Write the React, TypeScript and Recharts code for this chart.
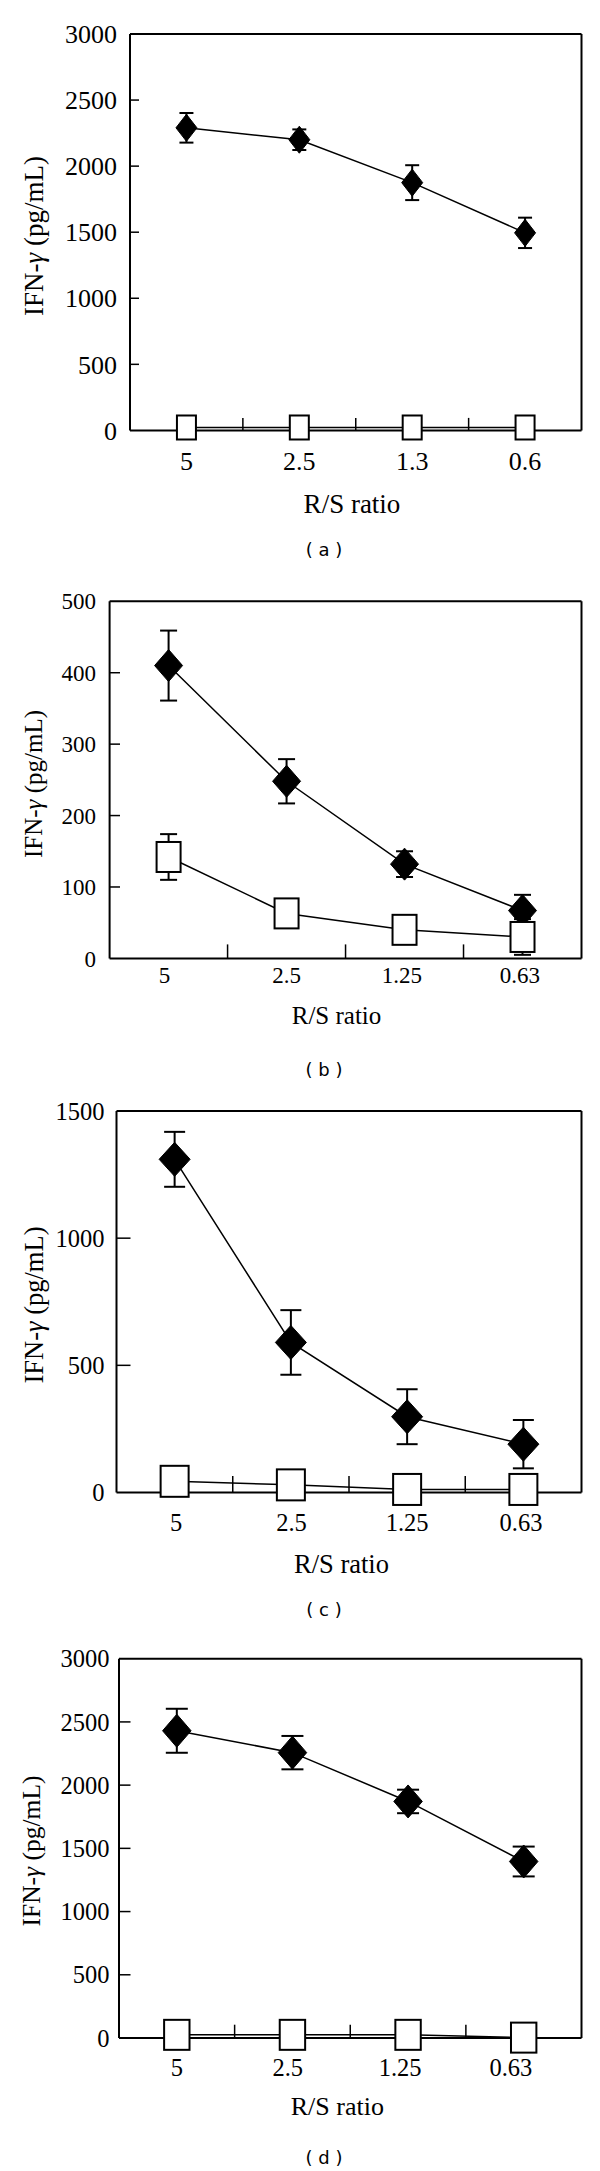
import React from 'react';
import { ComposedChart, Line, XAxis, YAxis, ErrorBar, ReferenceLine } from 'recharts';

// ---------- data ----------
const categoriesA = ['5', '2.5', '1.3', '0.6'];
const categoriesBCD = ['5', '2.5', '1.25', '0.63'];

const yTicksA = [0, 500, 1000, 1500, 2000, 2500, 3000];
const yTicksB = [0, 100, 200, 300, 400, 500];
const yTicksC = [0, 500, 1000, 1500];
const yTicksD = [0, 500, 1000, 1500, 2000, 2500, 3000];

const diamondA = [2290, 2200, 1875, 1495];
const diamondErrA = [112, 78, 132, 115];
const squareA = [22, 22, 22, 22];

const diamondB = [410, 248, 132, 67];
const diamondErrB = [49, 31, 18, 22];
const squareB = [142, 63, 40, 30];
const squareErrB = [32, 12, 10, 25];

const diamondC = [1310, 590, 298, 190];
const diamondErrC = [108, 127, 108, 95];
const squareC = [44, 30, 12, 12];

const diamondD = [2430, 2257, 1871, 1396];
const diamondErrD = [174, 132, 93, 118];
const squareD = [25, 25, 25, 3];

// category slots on a numeric axis: slot i is centred at i + 0.5
const slotCenters = [0.5, 1.5, 2.5, 3.5];
const slotBoundaries = [1, 2, 3];

type Row = { x: number; cat: string; d: number; dErr: number; s: number; sErr: number };

function buildRows(cats: string[], d: number[], dErr: number[], s: number[], sErr?: number[]): Row[] {
  return cats.map((c, i) => ({ x: slotCenters[i], cat: c, d: d[i], dErr: dErr[i], s: s[i], sErr: sErr ? sErr[i] : 0 }));
}

const rowsA = buildRows(categoriesA, diamondA, diamondErrA, squareA);
const rowsB = buildRows(categoriesBCD, diamondB, diamondErrB, squareB, squareErrB);
const rowsC = buildRows(categoriesBCD, diamondC, diamondErrC, squareC);
const rowsD = buildRows(categoriesBCD, diamondD, diamondErrD, squareD);

// ---------- layout ----------
const SERIF = '"Liberation Serif", "Times New Roman", serif';
const SANS = '"DejaVu Sans", Verdana, sans-serif';

const layoutA = {
  top: 0, boxLeft: 130, boxRight: 581.5, boxTop: 34, zero: 430.4, yMax: 3000,
  tickFont: 26, yTickGap: 13, xTickMargin: 21, yTickLen: 9, xTickLen: 12.5, xDx: [0, 0, 0, 0],
  yLabelX: 34, yLabelY: 236, yLabelFont: 27, xTitleX: 352, xTitleY: 504, xTitleFont: 27,
  capX: 324, capY: 550, diamond: [21, 27], square: [19, 24], cap: 7, caption: '( a )', squareErr: false,
};
const layoutB = {
  top: 540, boxLeft: 109.6, boxRight: 581.5, boxTop: 61.3, zero: 418.4, yMax: 500,
  tickFont: 23, yTickGap: 13.6, xTickMargin: 8.5, yTickLen: 10.4, xTickLen: 14, xDx: [-4, 0, -2.6, -2.6],
  yLabelX: 32.5, yLabelY: 243.5, yLabelFont: 25, xTitleX: 336.5, xTitleY: 475, xTitleFont: 25,
  capX: 324, capY: 530, diamond: [28, 32], square: [24, 30], cap: 8.5, caption: '( b )', squareErr: true,
};
const layoutC = {
  top: 1080, boxLeft: 116.5, boxRight: 581.5, boxTop: 31, zero: 412.5, yMax: 1500,
  tickFont: 24.5, yTickGap: 12, xTickMargin: 20.7, yTickLen: 14, xTickLen: 16.5, xDx: [1.4, 0.6, 0, -2.4],
  yLabelX: 34, yLabelY: 224.5, yLabelFont: 26.5, xTitleX: 341.5, xTitleY: 483.8, xTitleFont: 26.5,
  capX: 324, capY: 530, diamond: [31, 34], square: [28, 31], cap: 10.5, caption: '( c )', squareErr: false,
};
const layoutD = {
  top: 1620, boxLeft: 119, boxRight: 581.5, boxTop: 38.7, zero: 418, yMax: 3000,
  tickFont: 24.5, yTickGap: 9.4, xTickMargin: 20.7, yTickLen: 11.5, xTickLen: 13.3, xDx: [0, -4.7, -8, -12.8],
  yLabelX: 32, yLabelY: 230.8, yLabelFont: 25.5, xTitleX: 337.3, xTitleY: 486.6, xTitleFont: 26,
  capX: 324, capY: 538, diamond: [28.5, 33], square: [25.4, 30], cap: 11, caption: '( d )', squareErr: false,
};

type Layout = typeof layoutA;

const CHART_H = 520;
const XAXIS_H = 60;
const AUX = 1; // size of the auxiliary frame axes (top / right)

function Panel({ cfg, rows, yTicks, cats }: { cfg: Layout; rows: Row[]; yTicks: number[]; cats: string[] }) {
  const [dw, dh] = cfg.diamond;
  const [sw, sh] = cfg.square;
  const plotW = cfg.boxRight - cfg.boxLeft;
  const plotH = cfg.zero - cfg.boxTop;
  const xTickLenData = (cfg.xTickLen * cfg.yMax) / plotH;
  const yTickLenData = (cfg.yTickLen * 4) / plotW;

  const diamondDot = (p: any) => {
    const { cx, cy, index } = p;
    if (cx == null || cy == null) return <g key={`d${index}`} />;
    const pts = `${cx},${cy - dh / 2} ${cx + dw / 2},${cy} ${cx},${cy + dh / 2} ${cx - dw / 2},${cy}`;
    return <polygon key={`d${index}`} points={pts} fill="#000" stroke="#000" strokeWidth={1} />;
  };
  const squareDot = (p: any) => {
    const { cx, cy, index } = p;
    if (cx == null || cy == null) return <g key={`s${index}`} />;
    return (
      <rect key={`s${index}`} x={cx - sw / 2} y={cy - sh / 2} width={sw} height={sh}
        fill="#fff" stroke="#000" strokeWidth={2} />
    );
  };
  const xTick = (p: any) => {
    const v = Number(p.payload.value);
    const idx = Math.floor(v);
    const dx = cfg.xDx[idx] || 0;
    return (
      <text x={p.x + dx} y={p.y} dy="0.71em" textAnchor="middle" fontFamily={SERIF}
        style={{ fontFamily: SERIF }} fontSize={cfg.tickFont} fill="#000">{cats[idx]}</text>
    );
  };

  const axisLine = { stroke: '#000', strokeWidth: 2 };
  const innerY = yTicks.filter((t) => t > 0 && t < cfg.yMax);

  return (
    <div style={{ position: 'absolute', left: 0, top: cfg.top, width: 600, height: 551 }}>
      <ComposedChart
        width={600}
        height={CHART_H}
        data={rows}
        margin={{
          top: cfg.boxTop - AUX,
          right: 600 - cfg.boxRight - AUX,
          left: 0,
          bottom: CHART_H - cfg.zero - XAXIS_H,
        }}
      >
        <XAxis dataKey="x" type="number" domain={[0, 4]} ticks={slotCenters} height={XAXIS_H} tickLine={false}
          tickSize={0} tickMargin={cfg.xTickMargin} axisLine={axisLine} tick={xTick} interval={0} />
        <XAxis xAxisId="top" orientation="top" type="number" domain={[0, 1]} allowDataOverflow height={AUX}
          tick={false} tickLine={false} axisLine={axisLine} />
        <YAxis type="number" domain={[0, cfg.yMax]} ticks={yTicks} width={cfg.boxLeft} tickLine={false}
          tickSize={0} tickMargin={cfg.yTickGap} axisLine={axisLine} interval={0}
          tick={{ fontFamily: SERIF, fontSize: cfg.tickFont, fill: '#000', style: { fontFamily: SERIF } }} />
        <YAxis yAxisId="right" orientation="right" type="number" domain={[0, 1]} allowDataOverflow width={AUX}
          tick={false} tickLine={false} axisLine={axisLine} />
        {slotBoundaries.map((b) => (
          <ReferenceLine key={`bx${b}`} segment={[{ x: b, y: 0 }, { x: b, y: xTickLenData }]}
            stroke="#000" strokeWidth={1.5} ifOverflow="visible" />
        ))}
        {innerY.map((t) => (
          <ReferenceLine key={`ty${t}`} segment={[{ x: 0, y: t }, { x: yTickLenData, y: t }]}
            stroke="#000" strokeWidth={1.5} ifOverflow="visible" />
        ))}
        <Line dataKey="d" type="linear" stroke="#000" strokeWidth={1.5} dot={diamondDot} activeDot={false}
          isAnimationActive={false}>
          <ErrorBar dataKey="dErr" direction="y" width={cfg.cap} stroke="#000" strokeWidth={2}
            isAnimationActive={false} />
        </Line>
        <Line dataKey="s" type="linear" stroke="#000" strokeWidth={1.5} dot={squareDot} activeDot={false}
          isAnimationActive={false}>
          {cfg.squareErr ? (
            <ErrorBar dataKey="sErr" direction="y" width={cfg.cap} stroke="#000" strokeWidth={2}
              isAnimationActive={false} />
          ) : null}
        </Line>
      </ComposedChart>
      <div style={{
        position: 'absolute', left: cfg.yLabelX, top: cfg.yLabelY, transform: 'translate(-50%, -50%) rotate(-90deg)',
        whiteSpace: 'nowrap', fontFamily: SERIF, fontSize: cfg.yLabelFont, lineHeight: 1, color: '#000',
      }}>
        IFN-<i>γ</i> (pg/mL)
      </div>
      <div style={{
        position: 'absolute', left: cfg.xTitleX, top: cfg.xTitleY, transform: 'translate(-50%, -50%)',
        whiteSpace: 'nowrap', fontFamily: SERIF, fontSize: cfg.xTitleFont, lineHeight: 1, color: '#000',
      }}>
        R/S ratio
      </div>
      <div style={{
        position: 'absolute', left: cfg.capX, top: cfg.capY, transform: 'translate(-50%, -50%)',
        whiteSpace: 'pre', fontFamily: SANS, fontSize: 18, lineHeight: 1, color: '#000',
      }}>
        {cfg.caption}
      </div>
    </div>
  );
}

export default function App() {
  return (
    <div style={{ position: 'absolute', left: 0, top: 0, width: 600, height: 2171, background: '#fff', overflow: 'hidden' }}>
      <Panel cfg={layoutA} rows={rowsA} yTicks={yTicksA} cats={categoriesA} />
      <Panel cfg={layoutB} rows={rowsB} yTicks={yTicksB} cats={categoriesBCD} />
      <Panel cfg={layoutC} rows={rowsC} yTicks={yTicksC} cats={categoriesBCD} />
      <Panel cfg={layoutD} rows={rowsD} yTicks={yTicksD} cats={categoriesBCD} />
    </div>
  );
}
